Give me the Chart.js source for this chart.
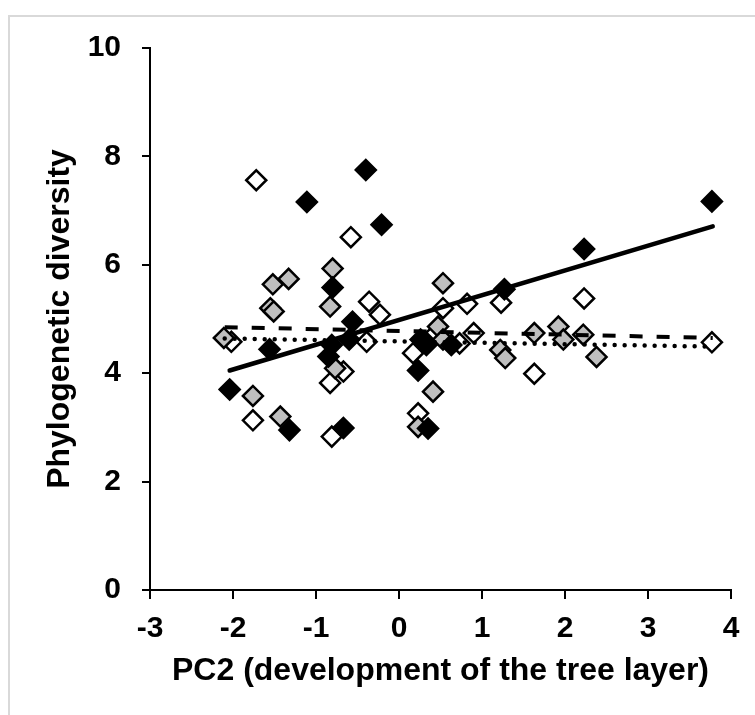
<!DOCTYPE html>
<html lang="en">
<head>
  <meta charset="UTF-8">
  <title>Phylogenetic diversity vs PC2</title>
  <script src="https://cdn.jsdelivr.net/npm/chart.js"></script>
  <style>
    body { margin: 0; background: #fff; }
    #frame {
      position: absolute; left: 8px; top: 15px; width: 760px; height: 720px;
      border-top: 2px solid #d9d9d9; border-left: 2px solid #d9d9d9;
    }
    #wrap { position: absolute; left: 0; top: 0; width: 755px; height: 715px; }
  </style>
</head>
<body>
  <div id="frame"></div>
  <div id="wrap"><canvas id="pdChart" width="755" height="715"></canvas></div>

  <script>
    // points: x = PC2, y = phylogenetic diversity
    const blackX = [-2.04, -1.56, -1.32, -1.11, -0.85, -0.81, -0.80, -0.67, -0.60, -0.56, -0.40, -0.21, 0.23, 0.26, 0.33, 0.63, 0.35, 1.27, 2.23, 3.77];
    const blackY = [3.70, 4.44, 2.95, 7.16, 4.31, 4.52, 5.58, 2.99, 4.62, 4.95, 7.75, 6.74, 4.05, 4.62, 4.52, 4.52, 2.98, 5.55, 6.29, 7.17];

    const grayX = [-2.11, -1.76, -1.55, -1.51, -1.52, -1.33, -1.43, -0.80, -0.83, -0.77, 0.47, 0.53, 0.53, 0.41, 0.23, 1.22, 1.28, 1.63, 1.92, 1.98, 2.22, 2.38];
    const grayY = [4.65, 3.58, 5.20, 5.14, 5.64, 5.74, 3.20, 5.93, 5.23, 4.09, 4.86, 5.66, 4.62, 3.66, 3.01, 4.43, 4.28, 4.74, 4.86, 4.62, 4.71, 4.30];

    const whiteX = [-2.02, -1.76, -1.72, -0.67, -0.83, -0.81, -0.58, -0.39, -0.36, -0.23, 0.17, 0.23, 0.53, 0.82, 1.23, 0.73, 0.90, 1.63, 2.23, 3.77, 0.45];
    const whiteY = [4.58, 3.13, 7.56, 4.03, 3.82, 2.83, 6.51, 4.58, 5.32, 5.08, 4.37, 3.26, 5.20, 5.28, 5.30, 4.55, 4.74, 3.99, 5.38, 4.57, 4.75];

    // trend line end points
    const solidX = [-2.04, 3.78];
    const solidY = [4.05, 6.71];
    const dashX = [-2.10, 3.78];
    const dashY = [4.85, 4.65];
    const dotX = [-2.10, 3.78];
    const dotY = [4.64, 4.49];

    const xTicks = [-3, -2, -1, 0, 1, 2, 3, 4];
    const yTicks = [0, 2, 4, 6, 8, 10];

    const toPts = (xs, ys) => xs.map((x, i) => ({ x: x, y: ys[i] }));

    const font = 'Liberation Sans, Arial, sans-serif';

    function markers(xs, ys, fill, order) {
      return {
        type: 'scatter',
        data: toPts(xs, ys),
        pointStyle: 'rectRot',
        pointRadius: 10,
        backgroundColor: fill,
        borderColor: '#000',
        borderWidth: 2.5,
        order: order
      };
    }

    function trend(xs, ys, dash, width, cap) {
      return {
        type: 'line',
        data: toPts(xs, ys),
        borderColor: '#000',
        borderWidth: width,
        borderDash: dash,
        borderCapStyle: cap,
        pointRadius: 0,
        fill: false,
        order: 0
      };
    }

    const ctx = document.getElementById('pdChart').getContext('2d');

    new Chart(ctx, {
      data: {
        datasets: [
          trend(solidX, solidY, [], 4.5, 'round'),
          trend(dashX, dashY, [13, 14], 4, 'butt'),
          trend(dotX, dotY, [0, 10], 4.5, 'round'),
          markers(blackX, blackY, '#000', 1),
          markers(grayX, grayY, '#bfbfbf', 2),
          markers(whiteX, whiteY, '#fff', 3)
        ]
      },
      options: {
        responsive: false,
        animation: false,
        layout: { padding: { left: 0, top: 48, right: 24, bottom: 0 } },
        plugins: { legend: { display: false }, tooltip: { enabled: false } },
        scales: {
          x: {
            type: 'linear',
            min: -3,
            max: 4,
            afterBuildTicks: s => { s.ticks = xTicks.map(v => ({ value: v })); },
            afterFit: s => { s.height = 125; },
            border: { color: '#000', width: 2 },
            grid: { drawOnChartArea: false, drawTicks: true, tickLength: 9, color: '#000', lineWidth: 2 },
            ticks: { color: '#000', padding: 12, maxRotation: 0, font: { family: font, size: 30, weight: 'bold' } },
            title: {
              display: true,
              text: 'PC2 (development of the tree layer)',
              color: '#000',
              padding: { top: 0, bottom: 25 },
              font: { family: font, size: 32, weight: 'bold' }
            }
          },
          y: {
            type: 'linear',
            min: 0,
            max: 10,
            afterBuildTicks: s => { s.ticks = yTicks.map(v => ({ value: v })); },
            afterFit: s => { s.width = 150; },
            border: { color: '#000', width: 2 },
            grid: { drawOnChartArea: false, drawTicks: true, tickLength: 8, color: '#000', lineWidth: 2 },
            ticks: { color: '#000', padding: 21, font: { family: font, size: 30, weight: 'bold' } },
            title: {
              display: true,
              text: 'Phylogenetic diversity',
              color: '#000',
              padding: { top: 41, bottom: 0 },
              font: { family: font, size: 32, weight: 'bold' }
            }
          }
        }
      }
    });
  </script>
</body>
</html>
